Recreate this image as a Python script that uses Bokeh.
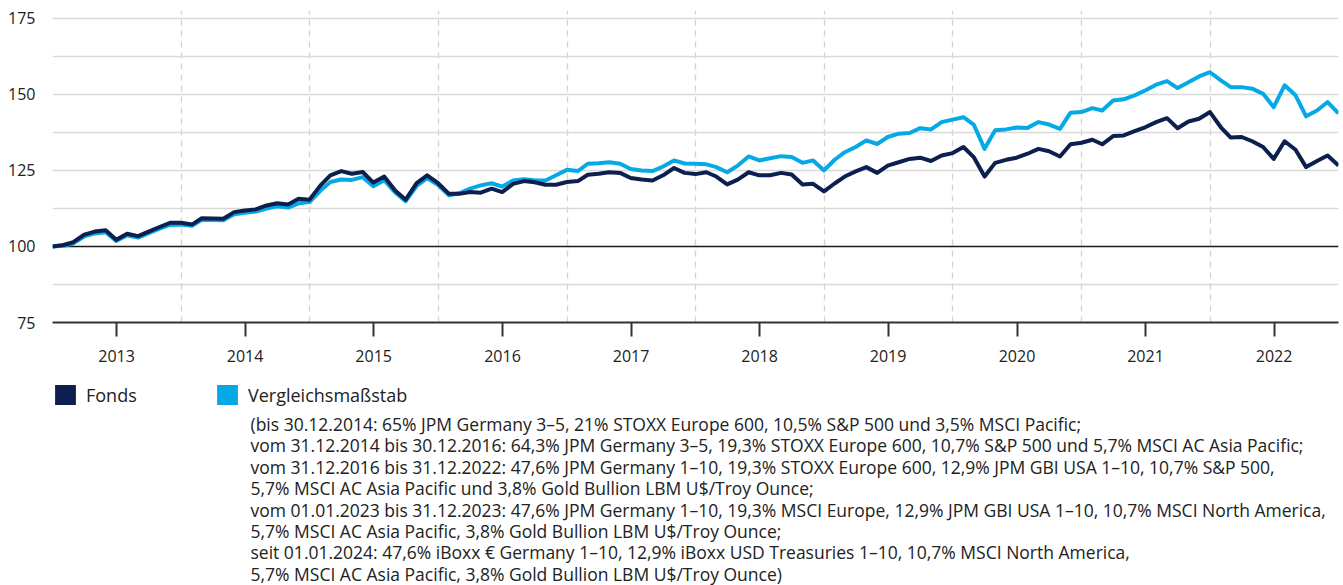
import pandas as pd
from bokeh.plotting import figure
from bokeh.layouts import column
from bokeh.models import (FixedTicker, Span, Legend, LegendItem, Range1d,
                          DatetimeTickFormatter, ColumnDataSource)
from bokeh.core.properties import value
from bokeh.embed import file_html
from bokeh.resources import INLINE

# ---------------- data ----------------
dates = pd.date_range("2012-12-31", periods=121, freq="ME")

fonds = [100, 100.5, 101.4, 103.9, 104.9, 105.3, 102.2, 104.2, 103.4, 104.9,
         106.4, 107.8, 107.8, 107.2, 109.3, 109.2, 109.1, 111.3, 111.8, 112.2,
         113.5, 114.2, 113.8, 115.7, 115.4, 120.1, 123.4, 124.8, 123.9, 124.5,
         121.0, 123.0, 118.4, 115.4, 120.8, 123.4, 120.8, 117.3, 117.3, 117.9,
         117.7, 119.0, 117.9, 120.6, 121.5, 121.1, 120.3, 120.3, 121.2, 121.5,
         123.6, 123.9, 124.4, 124.2, 122.5, 122.0, 121.7, 123.4, 125.8, 124.2,
         123.8, 124.4, 123.0, 120.4, 122.0, 124.4, 123.4, 123.4, 124.2, 123.7,
         120.4, 120.6, 118.1, 120.8, 123.0, 124.7, 126.1, 124.2, 126.6, 127.7,
         128.8, 129.2, 128.1, 129.9, 130.7, 132.7, 129.4, 123.0, 127.5, 128.5,
         129.2, 130.5, 132.1, 131.3, 129.6, 133.6, 134.1, 135.1, 133.6, 136.3,
         136.5, 137.9, 139.2, 140.9, 142.2, 138.9, 141.1, 142.0, 144.2, 139.2,
         135.8, 136.0, 134.6, 132.7, 128.8, 134.6, 131.8, 126.1, 128.1, 129.9,
         126.6]

benchmark = [100, 100.2, 101.0, 103.3, 104.3, 104.7, 101.8, 103.7, 102.9, 104.4,
             105.9, 107.1, 107.2, 106.8, 108.8, 108.7, 108.6, 110.6, 111.1, 111.5,
             112.5, 113.2, 112.8, 114.2, 114.6, 118.4, 121.2, 122.0, 121.9, 122.8,
             119.8, 121.8, 117.8, 114.9, 119.9, 122.5, 120.2, 116.8, 117.5, 119.0,
             120.1, 120.8, 119.7, 121.7, 122.1, 121.8, 121.7, 123.4, 125.2, 124.8,
             127.2, 127.4, 127.7, 127.2, 125.5, 125.0, 124.8, 126.3, 128.3, 127.3,
             127.2, 127.0, 126.1, 124.4, 126.6, 129.6, 128.3, 129.0, 129.7, 129.4,
             127.5, 128.3, 125.0, 128.6, 131.0, 132.7, 134.9, 133.7, 136.0, 137.1,
             137.3, 138.9, 138.5, 140.9, 141.7, 142.5, 140.1, 132.1, 138.2, 138.5,
             139.1, 139.0, 140.9, 140.1, 138.7, 144.0, 144.2, 145.5, 144.7, 148.0,
             148.4, 149.7, 151.3, 153.2, 154.4, 152.1, 154.0, 155.9, 157.3, 154.6,
             152.4, 152.4, 151.9, 150.2, 145.8, 153.0, 149.7, 142.8, 144.7, 147.5,
             143.8]

years = [2013, 2014, 2015, 2016, 2017, 2018, 2019, 2020, 2021, 2022]
y_ticks = [75, 100, 125, 150, 175]
grid_levels = [87.5, 112.5, 125, 137.5, 150, 162.5, 175]
legend_labels = ["Fonds", "Vergleichsmaßstab"]
note_lines = [
    "(bis 30.12.2014: 65% JPM Germany 3–5, 21% STOXX Europe 600, 10,5% S&P 500 und 3,5% MSCI Pacific;",
    "vom 31.12.2014 bis 30.12.2016: 64,3% JPM Germany 3–5, 19,3% STOXX Europe 600, 10,7% S&P 500 und 5,7% MSCI AC Asia Pacific;",
    "vom 31.12.2016 bis 31.12.2022: 47,6% JPM Germany 1–10, 19,3% STOXX Europe 600, 12,9% JPM GBI USA 1–10, 10,7% S&P 500,",
    "5,7% MSCI AC Asia Pacific und 3,8% Gold Bullion LBM U$/Troy Ounce;",
    "vom 01.01.2023 bis 31.12.2023: 47,6% JPM Germany 1–10, 19,3% MSCI Europe, 12,9% JPM GBI USA 1–10, 10,7% MSCI North America,",
    "5,7% MSCI AC Asia Pacific, 3,8% Gold Bullion LBM U$/Troy Ounce;",
    "seit 01.01.2024: 47,6% iBoxx € Germany 1–10, 12,9% iBoxx USD Treasuries 1–10, 10,7% MSCI North America,",
    "5,7% MSCI AC Asia Pacific, 3,8% Gold Bullion LBM U$/Troy Ounce)",
]

# ---------------- style ----------------
FONT = "Open Sans"
DARK = "#0d1f4e"
LIGHT = "#04a9e6"
TEXT = "#222222"
W = 1343
H_TOP = 372
H_BOTTOM = 585 - H_TOP
FRAME_L, FRAME_R = 52, 1338

p = figure(width=W, height=H_TOP, x_axis_type="datetime",
           output_backend="svg", toolbar_location=None,
           x_range=Range1d(dates[0].to_pydatetime(), dates[-1].to_pydatetime()),
           y_range=Range1d(75, 177.6),
           min_border_left=FRAME_L, min_border_right=W - FRAME_R, min_border_top=10,
           min_border_bottom=H_TOP - 322)
p.outline_line_color = None

# grids
p.ygrid.ticker = FixedTicker(ticks=grid_levels)
p.ygrid.grid_line_color = "#d9d9d9"
p.ygrid.grid_line_width = 1.5
jan_ticks = [pd.Timestamp(f"{y}-01-01").value // 10**6 for y in years[1:]]
p.xgrid.ticker = FixedTicker(ticks=jan_ticks)
p.xgrid.grid_line_color = "#d2d2d2"
p.xgrid.grid_line_width = 1.3
p.xgrid.grid_line_dash = "6 5"

p.add_layout(Span(location=100, dimension="width", line_color="#1a1a1a",
                  line_width=1.6, level="underlay"))

# axes
mid_ticks = [pd.Timestamp(f"{y}-07-01").value // 10**6 for y in years]
xa = p.xaxis[0]
xa.ticker = FixedTicker(ticks=mid_ticks)
xa.formatter = DatetimeTickFormatter(years="%Y", months="%Y", days="%Y")
xa.axis_line_color = "#333333"
xa.axis_line_width = 2
xa.major_tick_line_color = "#333333"
xa.major_tick_line_width = 2
xa.major_tick_out = 14
xa.major_tick_in = 0
xa.minor_tick_line_color = None
xa.major_label_standoff = 13
xa.major_label_text_font = FONT
xa.major_label_text_font_size = "16px"
xa.major_label_text_color = TEXT

ya = p.yaxis[0]
ya.ticker = FixedTicker(ticks=y_ticks)
ya.axis_line_color = None
ya.major_tick_line_color = None
ya.minor_tick_line_color = None
ya.major_tick_out = 0
ya.major_label_standoff = 17
ya.major_label_text_font = FONT
ya.major_label_text_font_size = "16px"
ya.major_label_text_color = TEXT

# lines
src = ColumnDataSource(dict(date=dates, fonds=fonds, bench=benchmark))
p.line("date", "bench", source=src, line_color=LIGHT, line_width=4, line_join="round")
p.line("date", "fonds", source=src, line_color=DARK, line_width=4, line_join="round")

# ---------------- bottom panel: legend + note ----------------
p2 = figure(width=W, height=H_BOTTOM, output_backend="svg", toolbar_location=None,
            x_range=Range1d(FRAME_L, FRAME_R), y_range=Range1d(585, H_TOP),
            x_axis_location=None, y_axis_location=None,
            min_border_left=FRAME_L, min_border_right=W - FRAME_R,
            min_border_top=0, min_border_bottom=0)
p2.outline_line_color = None
p2.xgrid.visible = False
p2.ygrid.visible = False

nan = float("nan")
sw_f = p2.rect(x=[nan], y=[nan], width=1, height=1, fill_color=DARK, line_color=None)
sw_b = p2.rect(x=[nan], y=[nan], width=1, height=1, fill_color=LIGHT, line_color=None)
for rend, lab, xpos in [(sw_f, legend_labels[0], 52), (sw_b, legend_labels[1], 214)]:
    leg = Legend(items=[LegendItem(label=lab, renderers=[rend])],
                 location=(xpos - FRAME_L, 585 - 407), orientation="horizontal",
                 glyph_width=26, glyph_height=25, label_height=25,
                 label_standoff=8, padding=0, margin=0, spacing=0,
                 border_line_color=None, background_fill_alpha=0,
                 label_text_font=FONT, label_text_font_size="18px",
                 label_text_color=TEXT, label_text_baseline="top")
    p2.add_layout(leg)

note_src = ColumnDataSource(dict(
    x=[250] * len(note_lines),
    y=[423.5 + 21.4 * i for i in range(len(note_lines))],
    text=note_lines))
p2.text(x="x", y="y", text="text", source=note_src, text_baseline="middle",
        text_align="left", text_font=value(FONT), text_font_size="17.5px",
        text_color=TEXT)

open("out.html", "w").write(file_html(column(p, p2), INLINE))
